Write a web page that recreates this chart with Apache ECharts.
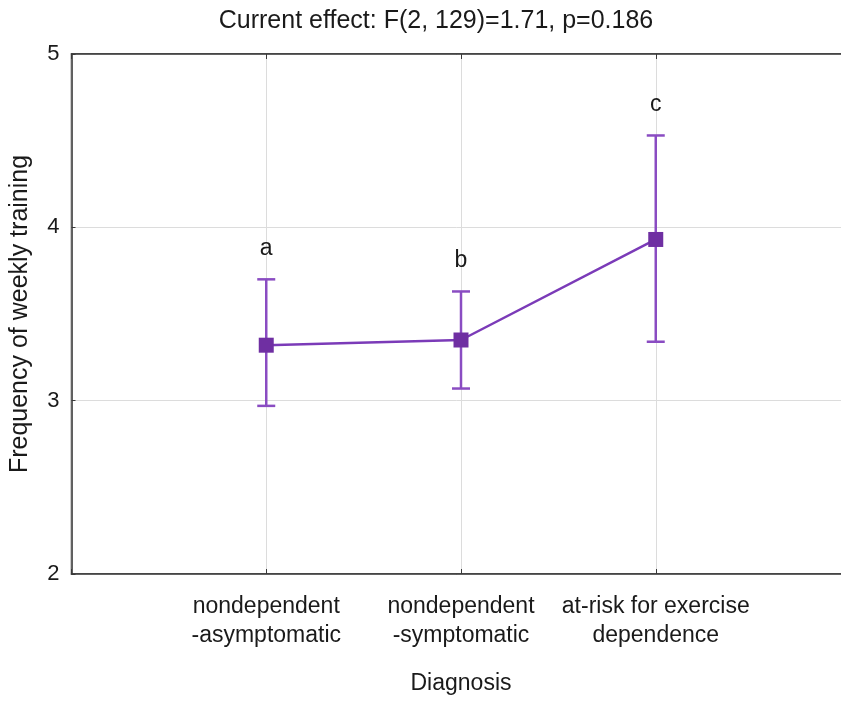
<!DOCTYPE html>
<html>
<head>
<meta charset="utf-8">
<script src="https://cdn.jsdelivr.net/npm/echarts@6/dist/echarts.min.js"></script>
<style>
  html, body { margin: 0; padding: 0; background: #fff; }
  #chart { width: 841px; height: 702px; }
</style>
</head>
<body>
<div id="chart"></div>
<script>
// data
const categories = ["nondependent\n-asymptomatic", "nondependent\n-symptomatic", "at-risk for exercise\ndependence"];
const means = [3.32, 3.35, 3.93];
const upper = [3.70, 3.63, 4.53];
const lower = [2.97, 3.07, 3.34];
const groupLetters = ["a", "b", "c"];
const yMin = 2, yMax = 5, yStep = 1;

const font = "Liberation Sans, Arial, sans-serif";
const txt = "#1a1a1a";

let myChart = echarts.init(document.getElementById("chart"));

myChart.setOption({
  backgroundColor: "#fff",
  animation: false,
  title: {
    text: "Current effect: F(2, 129)=1.71, p=0.186",
    left: 431,
    top: 4,
    textAlign: "center",
    textStyle: { fontFamily: font, fontSize: 25, fontWeight: "normal", color: txt },
  },
  grid: {
    left: 71.5,
    top: 54,
    width: 779,
    height: 520,
    outerBoundsMode: "none",
    containLabel: false,
    show: true,
    borderColor: "#3a3a3a",
    borderWidth: 1.5,
  },
  xAxis: [
    {
      type: "value",
      min: 0,
      max: 4,
      interval: 1,
      name: "Diagnosis",
      nameLocation: "middle",
      nameGap: 98,
      nameTextStyle: { fontFamily: font, fontSize: 23, color: txt },
      axisLine: { show: true, lineStyle: { color: "#3a3a3a", width: 1.5 } },
      axisTick: { show: true, inside: true, length: 5, lineStyle: { color: "#3a3a3a" } },
      splitLine: { show: true, lineStyle: { color: "#dcdcdc", width: 1 } },
      axisLabel: {
        fontFamily: font,
        fontSize: 23,
        lineHeight: 29,
        color: txt,
        margin: 18,
        align: "center",
        formatter: function (v) {
          return categories[v - 1] || "";
        },
      },
    },
    {
      type: "value",
      position: "top",
      min: 0,
      max: 4,
      interval: 1,
      axisLine: { show: true, lineStyle: { color: "#3a3a3a", width: 1.5 } },
      axisTick: { show: true, inside: true, length: 5, lineStyle: { color: "#3a3a3a" } },
      axisLabel: { show: false },
      splitLine: { show: false },
    },
  ],
  yAxis: {
    type: "value",
    min: yMin,
    max: yMax,
    interval: yStep,
    name: "Frequency of weekly training",
    nameLocation: "middle",
    nameGap: 39,
    nameTextStyle: { fontFamily: font, fontSize: 25, color: txt },
    axisLine: { show: true, lineStyle: { color: "#3a3a3a", width: 1.5 } },
    axisTick: { show: true, inside: true, length: 4, lineStyle: { color: "#3a3a3a" } },
    splitLine: { show: true, lineStyle: { color: "#dcdcdc", width: 1 } },
    axisLabel: { fontFamily: font, fontSize: 22, color: txt, margin: 12 },
  },
  series: [
    {
      type: "custom",
      z: 2,
      data: means.map((m, i) => [i + 1, lower[i], upper[i]]),
      renderItem: function (params, api) {
        const x = api.value(0);
        const lo = api.coord([x, api.value(1)]);
        const hi = api.coord([x, api.value(2)]);
        const cap = 9;
        const style = { stroke: "#8a4cc2", lineWidth: 2.5 };
        return {
          type: "group",
          children: [
            { type: "line", shape: { x1: hi[0], y1: hi[1], x2: lo[0], y2: lo[1] }, style: style },
            { type: "line", shape: { x1: hi[0] - cap, y1: hi[1], x2: hi[0] + cap, y2: hi[1] }, style: style },
            { type: "line", shape: { x1: lo[0] - cap, y1: lo[1], x2: lo[0] + cap, y2: lo[1] }, style: style },
            {
              type: "text",
              x: hi[0],
              y: hi[1] - 31,
              style: {
                text: groupLetters[params.dataIndex],
                fontFamily: font,
                fontSize: 23,
                fill: txt,
                align: "center",
                verticalAlign: "middle",
              },
            },
          ],
        };
      },
    },
    {
      type: "line",
      z: 3,
      data: means.map((m, i) => [i + 1, m]),
      symbol: "rect",
      symbolSize: 15,
      itemStyle: { color: "#6f2fa2" },
      lineStyle: { color: "#7b3bb8", width: 2.5 },
    },
  ],
});
</script>
</body>
</html>
